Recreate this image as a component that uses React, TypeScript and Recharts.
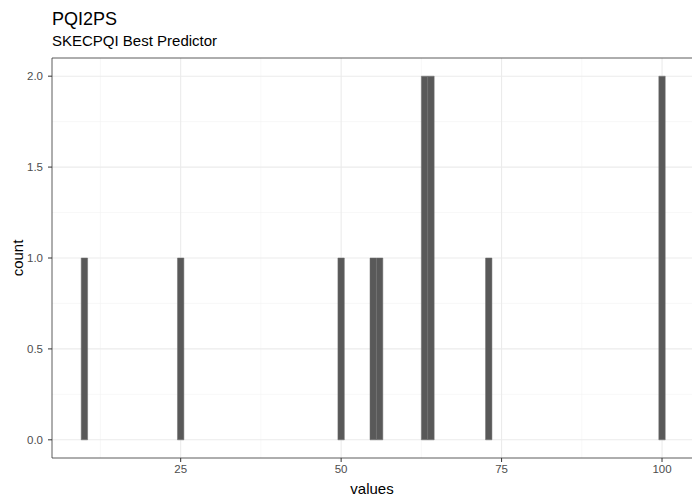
import { Bar, BarChart, CartesianGrid, ReferenceLine, XAxis, YAxis } from 'recharts';

const values = [10, 25, 50, 55, 56, 63, 64, 73, 100];
const counts = [1, 1, 1, 1, 1, 2, 2, 1, 2];
const xTicks = [25, 50, 75, 100];
const xMinor = [12.5, 37.5, 62.5, 87.5];
const yTicks = [0, 0.5, 1, 1.5, 2];
const yMinor = [0.25, 0.75, 1.25, 1.75];

const data = values.map((v, i) => ({ v, count: counts[i] }));

const font = '"Liberation Sans", Arial, sans-serif';
const tickStyle = { fontSize: 11.5, fill: '#4D4D4D', fontFamily: font };

export default function App() {
  return (
    <div style={{ position: 'absolute', left: 0, top: 0, width: 692, height: 497, overflow: 'hidden', background: '#fff', fontFamily: font }}>
      <div style={{ position: 'absolute', left: 52, top: 8, fontSize: 18, color: '#000', lineHeight: '22px' }}>PQI2PS</div>
      <div style={{ position: 'absolute', left: 52, top: 32, fontSize: 15, color: '#000', lineHeight: '18px' }}>SKECPQI Best Predictor</div>
      <BarChart width={692} height={497} data={data} margin={{ top: 58, right: 0, bottom: 0, left: 0 }}>
        <CartesianGrid stroke="#F4F4F4" strokeWidth={0.6} horizontalValues={yMinor} verticalValues={xMinor} />
        <CartesianGrid stroke="#EBEBEB" strokeWidth={1.1} horizontalValues={yTicks} verticalValues={xTicks} />
        <XAxis
          dataKey="v"
          type="number"
          domain={[4.95, 104.67]}
          allowDataOverflow
          ticks={xTicks}
          tick={tickStyle}
          tickSize={4}
          tickMargin={3}
          tickLine={{ stroke: '#333333' }}
          axisLine={{ stroke: '#333333', strokeWidth: 0.8 }}
          height={39}
          label={{ value: 'values', position: 'insideBottom', offset: 3, style: { fontSize: 15, fill: '#000', fontFamily: font } }}
        />
        <YAxis
          type="number"
          domain={[-0.1, 2.1]}
          allowDataOverflow
          ticks={yTicks}
          tickFormatter={(t: number) => t.toFixed(1)}
          tick={tickStyle}
          tickSize={4}
          tickMargin={5}
          tickLine={{ stroke: '#333333' }}
          axisLine={{ stroke: '#333333', strokeWidth: 0.8 }}
          width={52}
          label={{ value: 'count', angle: -90, position: 'insideLeft', offset: 18, style: { fontSize: 15, fill: '#000', fontFamily: font, textAnchor: 'middle' } }}
        />
        <Bar dataKey="count" fill="#595959" stroke="#6E6E6E" strokeWidth={0.5} barSize={6.4} isAnimationActive={false} />
        <ReferenceLine y={2.1} stroke="#333333" strokeWidth={0.8} ifOverflow="visible" />
      </BarChart>
    </div>
  );
}
